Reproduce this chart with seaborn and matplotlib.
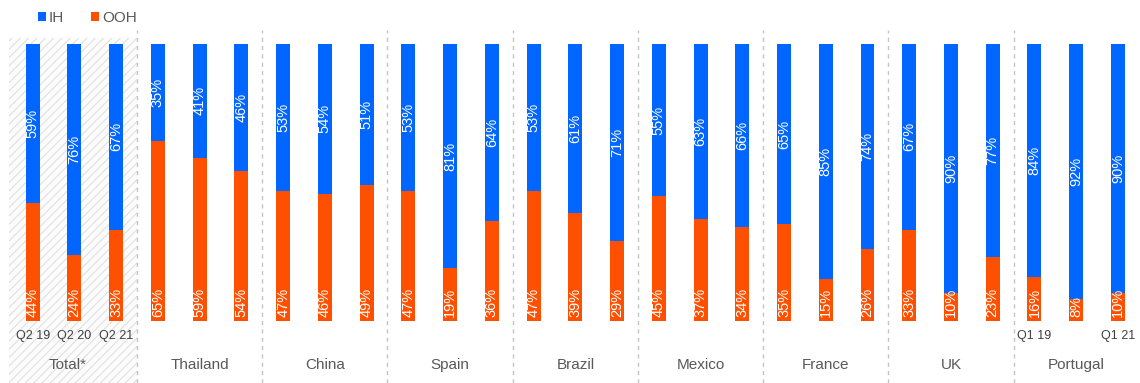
import matplotlib
matplotlib.use("Agg")
import matplotlib.pyplot as plt
from matplotlib.patches import Patch, Rectangle
import numpy as np
import pandas as pd
import seaborn as sns

# ---- data -------------------------------------------------------------
groups = ["Total*", "Thailand", "China", "Spain", "Brazil",
          "Mexico", "France", "UK", "Portugal"]
period_labels = ["Q2 19", "Q2 20", "Q2 21"] + [""] * 21 + ["Q1 19", "", "Q1 21"]
ih = [59, 76, 67, 35, 41, 46, 53, 54, 51, 53, 81, 64, 53, 61, 71,
      55, 63, 66, 65, 85, 74, 67, 90, 77, 84, 92, 90]
ooh = [44, 24, 33, 65, 59, 54, 47, 46, 49, 47, 19, 36, 47, 39, 29,
       45, 37, 34, 35, 15, 26, 33, 10, 23, 16, 8, 10]

BLUE = "#0066FF"
ORANGE = "#FF5000"
TEXT = "#595959"
DARK = "#404040"

# ---- frame: one row per bar, shares normalised to 100 % -----------
n_per = 3
slots = [f"{g}|{i}" for g in groups for i in range(n_per)]
ih_a = np.array(ih, dtype=float)
ooh_a = np.array(ooh, dtype=float)
tot = ih_a + ooh_a
ooh_share = ooh_a / tot * 100
top_share = (ooh_a + ih_a) / tot * 100
df = pd.DataFrame({"slot": slots, "ooh": ooh_share, "top": top_share})

sns.set_style("white")
plt.rcParams["font.family"] = ["Liberation Sans", "DejaVu Sans"]
plt.rcParams["hatch.linewidth"] = 0.8

W, H = 1140, 383
fig = plt.figure(figsize=(W / 100, H / 100), dpi=100)
ax = fig.add_axes([0, 0, 1, 1])

# background for the total group
ax.add_patch(Rectangle((-0.57, -30), 0.57 + 2.5, 30 + 102.2,
                       facecolor="#fcfcfc", edgecolor="#e0e0e0",
                       hatch="////", linewidth=0, zorder=0))

bar_w = 0.335
sns.barplot(data=df, x="slot", y="top", order=slots, color=BLUE,
            saturation=1, width=bar_w, ax=ax, zorder=2,
            edgecolor="none", linewidth=0)
sns.barplot(data=df, x="slot", y="ooh", order=slots, color=ORANGE,
            saturation=1, width=bar_w, ax=ax, zorder=3,
            edgecolor="none", linewidth=0)

x0 = -32.7 / 41.74
x1 = (W - 32.7) / 41.74
y_lo = -(H - 321) / 2.77
y_hi = 100 + 44 / 2.77
ax.set_xlim(x0, x1)
ax.set_ylim(y_lo, y_hi)
ax.set_axis_off()

# dashed separators between groups
for k in range(1, len(groups)):
    ax.vlines(k * n_per - 0.5, y_lo, 105, colors="#c4c4c4",
              linestyles=(0, (3, 3)), linewidth=1.0, zorder=1)

# value labels
for i in range(len(slots)):
    ax.text(i, (ooh_share[i] + top_share[i]) / 2, f"{ih[i]}%",
            rotation=90, ha="center", va="center", color="white",
            fontsize=10.5, zorder=5)
    ax.text(i, 1.6, f"{ooh[i]}%", rotation=90, ha="center",
            va="bottom", color="white", fontsize=10.5, zorder=5)
    if period_labels[i]:
        ax.text(i, -5.4, period_labels[i], ha="center", va="center",
                color=DARK, fontsize=9)

# group names
for k, g in enumerate(groups):
    cx = k * n_per + 1
    if k == 0:
        cx -= 0.17
    ax.text(cx, -15.9, g, ha="center", va="center", color=TEXT,
            fontsize=11)

# legend
handles = [Patch(facecolor=BLUE, edgecolor="none", label="IH"),
           Patch(facecolor=ORANGE, edgecolor="none", label="OOH")]
fig.legend(handles=handles, loc="upper left", ncol=2, frameon=False,
           bbox_to_anchor=(38 / W, 1 - 11 / H), borderpad=0,
           borderaxespad=0, handlelength=0.5, handleheight=0.5,
           handletextpad=0.2, columnspacing=1.8, fontsize=11,
           labelcolor=TEXT)

fig.savefig("out.png", dpi=100)
